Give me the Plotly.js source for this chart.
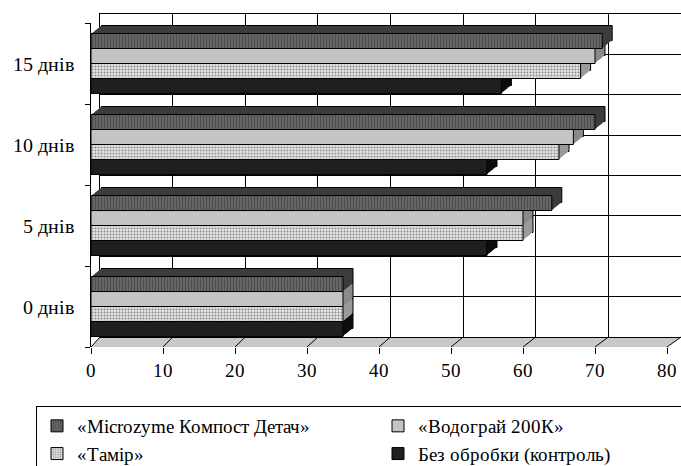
<!DOCTYPE html>
<html>
<head>
<meta charset="utf-8">
<script src="https://cdn.plot.ly/plotly-3.0.1.min.js"></script>
<style>
@font-face { font-family: 'RefSerif'; src: local('Liberation Serif'), local('LiberationSerif'), local('LiberationSerif-Regular'), local('DejaVu Serif'), local('DejaVuSerif'), local('Noto Serif'), local('NotoSerif-Regular'); }
html,body{margin:0;padding:0;background:#fff;}#chart{width:681px;height:466px;}
</style>
</head>
<body>
<div id="chart"></div>
<script>
// ---- data ----
const categories = ['0 днів', '5 днів', '10 днів', '15 днів'];
const seriesNames = ['«Microzyme Компост Детач»', '«Водограй 200К»', '«Тамір»', 'Без обробки (контроль)'];
const microzyme = [35, 64, 70, 71];
const vodograi  = [35, 60, 67, 70];
const tamir     = [35, 60, 65, 68];
const control   = [35, 55, 55, 57];
const xTicks = [0, 10, 20, 30, 40, 50, 60, 70, 80];

// ---- geometry helpers (pixels -> paper) ----
const W = 681, H = 466, ML = 91, MR = 0, MT = 14, MB = 119;
const PW = W - ML - MR, PH = H - MT - MB;
const px = p => (p - ML) / PW;
const py = p => (H - MB - p) / PH;

const font = 'RefSerif, Liberation Serif, Times New Roman, serif';
const blackLine = {color: '#000', width: 1};

// series drawn bottom -> top within a group
const series = [
  {name: seriesNames[3], values: control,   face: '#1f1f1f', depth: '#0d0d0d'},
  {name: seriesNames[2], values: tamir,     face: '#e6e6e6', depth: '#9a9a9a',
   pattern: {shape: '.', fgcolor: '#8a8a8a', bgcolor: '#e6e6e6', size: 3, solidity: 0.35}},
  {name: seriesNames[1], values: vodograi,  face: '#c4c4c4', depth: '#8a8a8a'},
  {name: seriesNames[0], values: microzyme, face: '#5f5f5f', depth: '#3c3c3c',
   pattern: {shape: '|', fgcolor: '#4d4d4d', bgcolor: '#676767', size: 3, solidity: 0.4}}
];

const traces = [
  {type: 'scatter', x: [], y: [], xaxis: 'x', yaxis: 'y', showlegend: false, hoverinfo: 'skip'}
];

const layout = {
  width: W, height: H,
  margin: {l: ML, r: MR, t: MT, b: MB, pad: 0, autoexpand: false},
  paper_bgcolor: '#fff', plot_bgcolor: 'rgba(0,0,0,0)',
  font: {family: font, size: 20, color: '#000'},
  barmode: 'group', bargap: 0.26, bargroupgap: 0,
  showlegend: true,
  // back wall
  xaxis: {domain: [px(100), px(681)], range: [0, 80], dtick: 10, tick0: 0, showgrid: true, gridcolor: '#000', gridwidth: 1,
          showticklabels: false, ticks: '', zeroline: false, showline: true, mirror: true, linecolor: '#000', linewidth: 1,
          anchor: 'y', fixedrange: true},
  yaxis: {domain: [py(337), py(14)], range: [0, 8], dtick: 1, tick0: 0, showgrid: true, gridcolor: '#000', gridwidth: 1,
          showticklabels: false, ticks: '', zeroline: false, showline: true, mirror: true, linecolor: '#000', linewidth: 1,
          anchor: 'x', fixedrange: true},
  legend: {orientation: 'h', traceorder: 'reversed', x: px(36), y: py(406), xanchor: 'left', yanchor: 'top',
           bordercolor: '#000', borderwidth: 1, bgcolor: '#fff', entrywidth: 296, entrywidthmode: 'pixels',
           font: {family: font, size: 19, color: '#000'}}
};

// 3D depth layers (deepest first), then the front faces
const DX = 10, DY = 8, STEPS = 10;
let axisIndex = 2;
for (let k = STEPS; k >= 0; k--) {
  const dx = DX * k / STEPS, dy = DY * k / STEPS;
  const xa = 'xaxis' + axisIndex, ya = 'yaxis' + axisIndex;
  const isFront = (k === 0);
  layout[xa] = {domain: [px(91 + dx), px(667 + dx)], range: [0, 80], anchor: 'y' + axisIndex, fixedrange: true,
                showgrid: false, zeroline: false, showline: false};
  layout[ya] = {domain: [py(347 - dy), py(23 - dy)], type: 'category', categoryorder: 'array', categoryarray: categories,
                anchor: 'x' + axisIndex, fixedrange: true, showgrid: false, zeroline: false};
  if (isFront) {
    Object.assign(layout[xa], {tickvals: xTicks, ticktext: xTicks.map(String), ticks: 'outside', ticklen: 6,
      tickcolor: '#000', tickfont: {family: font, size: 19, color: '#000'}});
    Object.assign(layout[ya], {showline: true, linecolor: '#000', linewidth: 1, ticks: 'outside', ticklen: 5,
      tickcolor: '#000', tickson: 'boundaries', ticklabelstandoff: 12, tickfont: {family: font, size: 20, color: '#000'}});
  } else {
    layout[xa].visible = false;
    layout[ya].visible = false;
  }
  series.forEach(s => {
    const marker = isFront
      ? Object.assign({color: s.face, line: blackLine}, s.pattern ? {pattern: s.pattern} : {})
      : {color: s.depth, line: (k === STEPS ? blackLine : {width: 0})};
    traces.push({type: 'bar', orientation: 'h', name: s.name, y: categories, x: s.values,
      xaxis: 'x' + axisIndex, yaxis: 'y' + axisIndex, marker: marker, showlegend: isFront, hoverinfo: 'skip'});
  });
  axisIndex++;
}

// floor and floor diagonals (decoration)
const shapes = [{
  type: 'path', xref: 'paper', yref: 'paper', layer: 'below',
  path: `M ${px(91)} ${py(347)} L ${px(667)} ${py(347)} L ${px(681)} ${py(337)} L ${px(100)} ${py(337)} Z`,
  fillcolor: '#c8c8c8', line: {width: 0}
}];
xTicks.forEach(v => {
  shapes.push({
    type: 'line', xref: 'paper', yref: 'paper', layer: 'below',
    x0: px(91 + v * 576 / 80), y0: py(347),
    x1: px(100 + v * 581 / 80), y1: py(337),
    line: {color: '#000', width: 1}
  });
});
layout.shapes = shapes;

const draw = () => Plotly.newPlot('chart', traces, layout, {displayModeBar: false, staticPlot: true});
if (document.fonts && document.fonts.load) {
  document.fonts.load('20px RefSerif', 'Абв 0123').then(draw, draw);
} else {
  draw();
}
</script>
</body>
</html>
